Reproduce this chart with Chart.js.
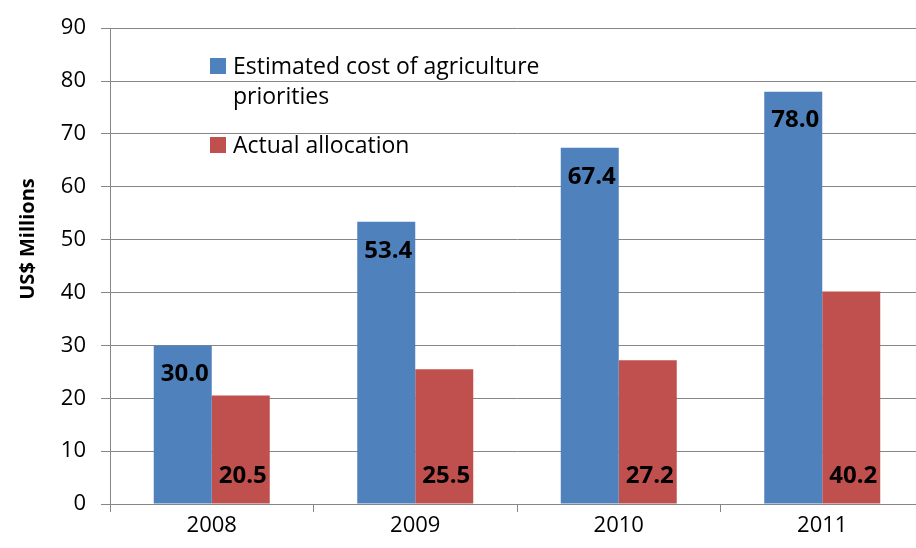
<!DOCTYPE html>
<html lang="en">
<head>
    <meta charset="UTF-8">
    <title>Agriculture Priorities vs Allocation</title>
    <style>
        html, body {
            margin: 0;
            padding: 0;
            background: #ffffff;
            overflow: hidden;
        }

        .chart-box {
            width: 930px;
            height: 548px;
        }
    </style>
    <script src="https://cdn.jsdelivr.net/npm/chart.js"></script>
</head>
<body>
    <div class="chart-box">
        <canvas id="chartCanvas"></canvas>
    </div>

    <script>
        const years = ['2008', '2009', '2010', '2011'];
        const estimatedCost = [30.0, 53.4, 67.4, 78.0];
        const actualAllocation = [20.5, 25.5, 27.2, 40.2];
        const seriesNames = [['Estimated cost of agriculture', 'priorities'], ['Actual allocation']];
        const yTicks = [0, 10, 20, 30, 40, 50, 60, 70, 80, 90];

        const FONT = '"Open Sans", sans-serif';
        const BLUE = '#4f81bd';
        const RED = '#c0504d';
        const GRID = '#868686';

        // value labels: blue at the top inside, red at the base inside
        const barLabels = {
            id: 'barLabels',
            afterDatasetsDraw(chart) {
                const ctx = chart.ctx;
                ctx.save();
                ctx.font = 'bold 24px ' + FONT;
                ctx.fillStyle = '#000';
                ctx.textAlign = 'center';
                ctx.textBaseline = 'middle';
                chart.data.datasets.forEach((ds, i) => {
                    chart.getDatasetMeta(i).data.forEach((bar, j) => {
                        const txt = ds.data[j].toFixed(1);
                        const y = i === 0 ? bar.y + 29 : bar.base - 27;
                        ctx.fillText(txt, bar.x + 2, y);
                    });
                });
                ctx.restore();
            }
        };

        // legend block inside the plot and the rotated axis title
        const extras = {
            id: 'extras',
            afterDraw(chart) {
                const ctx = chart.ctx;
                ctx.save();
                ctx.font = '23px ' + FONT;
                ctx.textBaseline = 'alphabetic';
                ctx.textAlign = 'left';
                const rows = [
                    { y: 58, color: BLUE, lines: seriesNames[0] },
                    { y: 137, color: RED, lines: seriesNames[1] }
                ];
                rows.forEach(r => {
                    ctx.fillStyle = r.color;
                    ctx.fillRect(210, r.y, 16, 16);
                    ctx.fillStyle = '#000';
                    r.lines.forEach((line, k) => {
                        ctx.fillText(line, 233, r.y + 16 + k * 30);
                    });
                });

                ctx.translate(34, 239);
                ctx.rotate(-Math.PI / 2);
                ctx.textAlign = 'center';
                ctx.font = 'bold 20px ' + FONT;
                ctx.fillText('US$ Millions', 0, 0);
                ctx.restore();
            }
        };

        new Chart(document.getElementById('chartCanvas'), {
            type: 'bar',
            data: {
                labels: years,
                datasets: [
                    { label: seriesNames[0].join(' '), data: estimatedCost, backgroundColor: BLUE },
                    { label: seriesNames[1][0], data: actualAllocation, backgroundColor: RED }
                ]
            },
            options: {
                responsive: true,
                maintainAspectRatio: false,
                animation: false,
                layout: { padding: { top: 25, right: 6, left: 0, bottom: 0 } },
                datasets: {
                    bar: { categoryPercentage: 0.57, barPercentage: 1.0 }
                },
                plugins: {
                    legend: { display: false },
                    tooltip: { enabled: false }
                },
                scales: {
                    x: {
                        grid: {
                            offset: true,
                            drawOnChartArea: false,
                            color: GRID,
                            tickLength: 8
                        },
                        border: { color: GRID, width: 1 },
                        ticks: {
                            color: '#000',
                            font: { family: FONT, size: 22 },
                            padding: 1
                        },
                        afterFit(scale) { scale.height = 44; }
                    },
                    y: {
                        min: 0,
                        max: 90,
                        afterBuildTicks(scale) {
                            scale.ticks = yTicks.map(v => ({ value: v }));
                        },
                        grid: { color: GRID, tickLength: 9 },
                        border: { color: GRID, width: 1 },
                        ticks: {
                            color: '#000',
                            font: { family: FONT, size: 22 },
                            padding: 15
                        },
                        afterFit(scale) { scale.width = 110; }
                    }
                }
            },
            plugins: [barLabels, extras]
        });
    </script>
</body>
</html>
